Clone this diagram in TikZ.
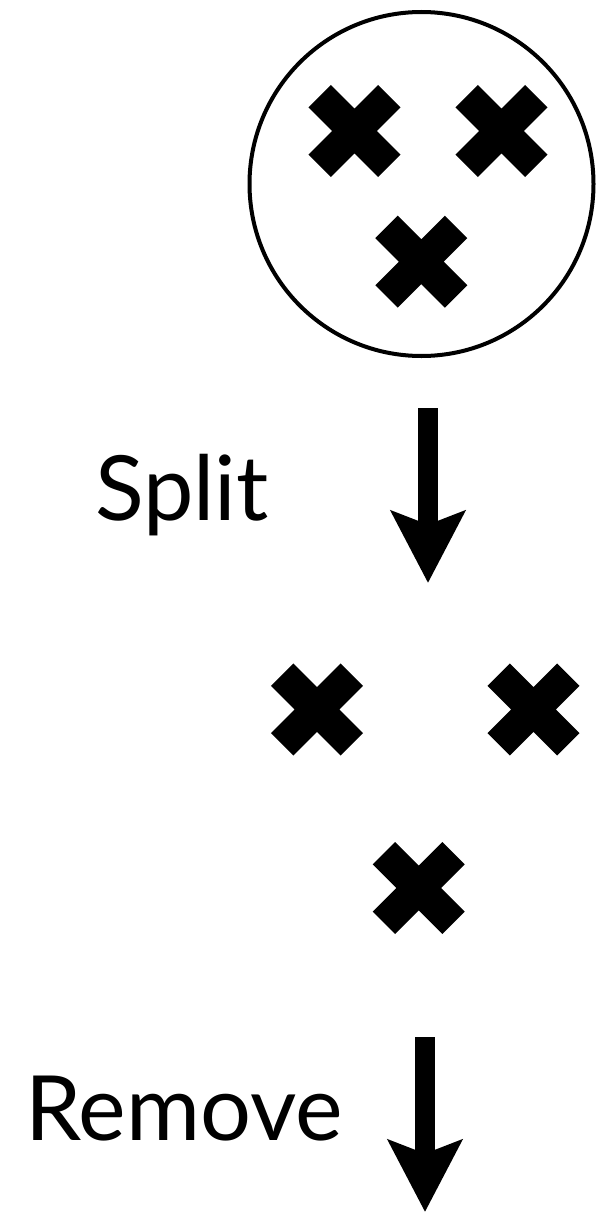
\documentclass[tikz,border=0pt]{standalone}
\usepackage{fontspec}
\setmainfont{Lato}
\usepackage{tikz}
\usetikzlibrary{arrows.meta, positioning, shapes.misc}

\begin{document}
\begin{tikzpicture}[
  x=1pt, y=-1pt,
  xmark/.style={cross out, draw, line width=31.7pt, minimum size=69.6pt, inner sep=0pt, outer sep=0pt},
  downarr/.style={line width=19.4pt, -{Stealth[length=71.6pt, width=73pt, inset=13.3pt]}},
  lbl/.style={anchor=base west, font=\fontsize{90}{90}\selectfont, inner sep=0pt},
]
\useasboundingbox (0,0) rectangle (595,1212);
\node[circle, draw, line width=4pt, minimum size=344pt, inner sep=0pt] (bag) at (421.5,184) {};
\node[xmark] (a1) at (354.5,131) {};
\node[xmark] (a2) at (501.5,131) {};
\node[xmark] (a3) at (421.3,261.7) {};
\coordinate (s0) at (428,408);
\coordinate (s1) at (428,583);
\draw[downarr] (s0) -- (s1);
\node[lbl] (split) at (95,520) {Split};
\node[xmark] (b1) at (317,709.5) {};
\node[xmark] (b2) at (533.5,709.5) {};
\node[xmark] (b3) at (418.7,888) {};
\coordinate (r0) at (425,1037);
\coordinate (r1) at (425,1212);
\draw[downarr] (r0) -- (r1);
\node[lbl] (remove) at (25,1140) {Remove};
\end{tikzpicture}
\end{document}
